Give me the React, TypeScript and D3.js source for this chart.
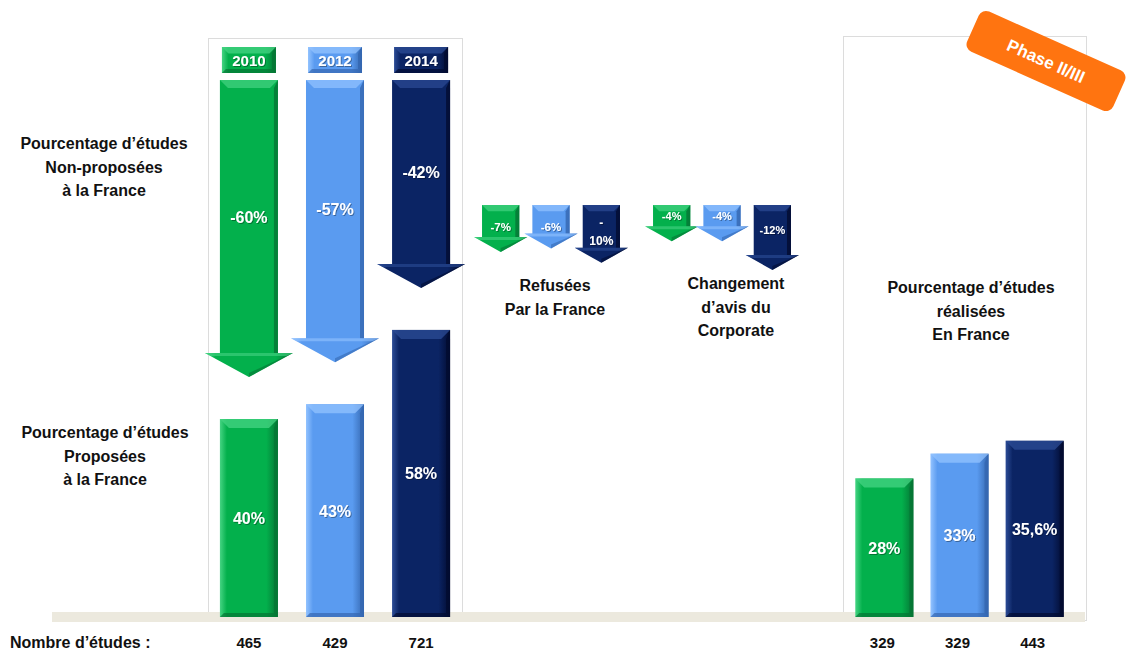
import * as d3 from "d3";
import React from "react";

const W = 1127;
const H = 655;

// data
const years = ["2010", "2012", "2014"];
const nonProposed = [60, 57, 42];
const proposed = [40, 43, 58];
const refused = [7, 6, 10];
const changed = [4, 4, 12];
const realised = [28, 33, 35.6];
const realisedLabels = ["28%", "33%", "35,6%"];
const countsLeft = [465, 429, 721];
const countsRight = [329, 329, 443];

const palette = [
    { base: "#03b04c", light: "#46d483", dark: "#057534" },
    { base: "#5a9bf0", light: "#93c3ff", dark: "#3467b0" },
    { base: "#0b2464", light: "#2c4c96", dark: "#020b30" },
];

const FONT = "'Liberation Sans', Arial, sans-serif";

const baseY = 617;
const arrowTop = 80;

const xLeft = d3.scaleBand<string>().domain(years).range([207, 463]).paddingInner(0.326).paddingOuter(0.15);
const xRight = d3.scaleBand<string>().domain(years).range([844, 1075]).paddingInner(0.227).paddingOuter(0.15);
const xRef = d3.scaleBand<string>().domain(years).range([477, 625]).paddingInner(0.26).paddingOuter(0.1);
const xChg = d3.scaleBand<string>().domain(years).range([648, 796]).paddingInner(0.26).paddingOuter(0.1);

const yPct = d3.scaleLinear().domain([0, 100]).range([0, 495]);
const ySmall = d3.scaleLinear().domain([0, 12]).range([22, 65]);

function Bevel({ x, y, w, h, i }: { x: number; y: number; w: number; h: number; i: number }) {
    const c = palette[i];
    const b = Math.min(9, h / 4);
    return (
        <g>
            <rect x={x} y={y} width={w} height={h} fill={`url(#grad${i})`} />
            <polygon points={`${x},${y} ${x + w},${y} ${x + w - b},${y + b} ${x + b},${y + b}`} fill={c.light} opacity={0.75} />
            <polygon points={`${x + w},${y} ${x + w},${y + h} ${x + w - 4},${y + h - 4} ${x + w - 4},${y + b}`} fill={c.dark} opacity={0.8} />
            <polygon points={`${x},${y + h} ${x + w},${y + h} ${x + w - 4},${y + h - 4} ${x + 4},${y + h - 4}`} fill={c.dark} opacity={0.7} />
        </g>
    );
}

function Arrow({ x, y, w, len, e, hh, i }: { x: number; y: number; w: number; len: number; e: number; hh: number; i: number }) {
    const c = palette[i];
    const tip = y + len;
    const hs = tip - hh;
    const b = Math.min(8, w / 6);
    const pts = [
        [x, y], [x + w, y], [x + w, hs], [x + w + e, hs], [x + w / 2, tip], [x - e, hs], [x, hs],
    ];
    return (
        <g>
            <polygon points={pts.map((p) => p.join(",")).join(" ")} fill={`url(#grad${i})`} />
            <polygon points={`${x},${y} ${x + w},${y} ${x + w - b},${y + b} ${x + b},${y + b}`} fill={c.light} opacity={0.7} />
            <polygon points={`${x + w},${y} ${x + w},${hs} ${x + w - 4},${hs} ${x + w - 4},${y + b}`} fill={c.dark} opacity={0.8} />
            <polygon points={`${x - e},${hs} ${x + w + e},${hs} ${x + w + e - 6},${hs + 3} ${x - e + 6},${hs + 3}`} fill={c.light} opacity={0.6} />
            <polygon points={`${x + w + e},${hs} ${x + w / 2},${tip} ${x + w / 2},${tip - 4} ${x + w + e - 7},${hs + 3}`} fill={c.dark} opacity={0.6} />
        </g>
    );
}

function Label({ x, y, lines, size = 16 }: { x: number; y: number; lines: string[]; size?: number }) {
    return (
        <text x={x} y={y} textAnchor="middle" fontFamily={FONT} fontWeight="bold" fontSize={size} fill="#111">
            {lines.map((l, k) => (
                <tspan key={k} x={x} dy={k === 0 ? 0 : 23.5}>{l}</tspan>
            ))}
        </text>
    );
}

export default function App() {
    const bwL = xLeft.bandwidth();
    const bwR = xRight.bandwidth();
    const bwS = xRef.bandwidth();
    return (
        <div style={{ position: "fixed", left: 0, top: 0 }}>
            <svg width={W} height={H} style={{ display: "block", background: "#fff" }}>
                <defs>
                    {palette.map((c, i) => (
                        <linearGradient key={i} id={`grad${i}`} x1="0" x2="1" y1="0" y2="0">
                            <stop offset="0" stopColor={c.light} />
                            <stop offset="0.12" stopColor={c.base} />
                            <stop offset="0.8" stopColor={c.base} />
                            <stop offset="1" stopColor={c.dark} />
                        </linearGradient>
                    ))}
                    <filter id="shadow" x="-10%" y="-10%" width="130%" height="130%">
                        <feDropShadow dx="1" dy="1" stdDeviation="0.6" floodColor="#000" floodOpacity="0.35" />
                    </filter>
                </defs>

                {/* panels */}
                <rect x={208.5} y={38.5} width={254} height={582} fill="none" stroke="#dcdcdc" />
                <rect x={843.5} y={36.5} width={243} height={584} fill="none" stroke="#dcdcdc" />

                {/* baseline */}
                <rect x={52} y={612} width={1033} height={10} fill="#ece9de" />

                {/* year tags */}
                {years.map((yr, i) => {
                    const x = xLeft(yr)! + 2;
                    return (
                        <g key={yr}>
                            <Bevel x={x} y={47} w={bwL - 4} h={26} i={i} />
                            <text x={x + (bwL - 4) / 2} y={65.5} textAnchor="middle" fontFamily={FONT} fontWeight="bold" fontSize={15} fill="#fff" filter="url(#shadow)">{yr}</text>
                        </g>
                    );
                })}

                {/* non-proposed arrows */}
                {years.map((yr, i) => {
                    const x = xLeft(yr)!;
                    const len = yPct(nonProposed[i]);
                    return (
                        <g key={yr}>
                            <Arrow x={x} y={arrowTop} w={bwL} len={len} e={15} hh={24} i={i} />
                            <text x={x + bwL / 2} y={arrowTop + (len - 24) / 2 + 6} textAnchor="middle" fontFamily={FONT} fontWeight="bold" fontSize={16} fill="#fff" filter="url(#shadow)">-{nonProposed[i]}%</text>
                        </g>
                    );
                })}

                {/* proposed bars */}
                {years.map((yr, i) => {
                    const x = xLeft(yr)!;
                    const h = yPct(proposed[i]);
                    return (
                        <g key={yr}>
                            <Bevel x={x} y={baseY - h} w={bwL} h={h} i={i} />
                            <text x={x + bwL / 2} y={baseY - h / 2 + 6} textAnchor="middle" fontFamily={FONT} fontWeight="bold" fontSize={16} fill="#fff" filter="url(#shadow)">{proposed[i]}%</text>
                        </g>
                    );
                })}

                {/* refused small arrows */}
                {years.map((yr, i) => {
                    const x = xRef(yr)!;
                    const len = ySmall(refused[i]);
                    const cx = x + bwS / 2;
                    return (
                        <g key={yr}>
                            <Arrow x={x} y={205} w={bwS} len={len} e={8} hh={15} i={i} />
                            {refused[i] >= 10 ? (
                                <text textAnchor="middle" fontFamily={FONT} fontWeight="bold" fontSize={12} fill="#fff" filter="url(#shadow)">
                                    <tspan x={cx} y={227}>-</tspan>
                                    <tspan x={cx} y={245}>{refused[i]}%</tspan>
                                </text>
                            ) : (
                                <text x={cx} y={231} textAnchor="middle" fontFamily={FONT} fontWeight="bold" fontSize={11.5} fill="#fff" filter="url(#shadow)">-{refused[i]}%</text>
                            )}
                        </g>
                    );
                })}

                {/* changed small arrows */}
                {years.map((yr, i) => {
                    const x = xChg(yr)!;
                    const len = ySmall(changed[i]);
                    const cx = x + bwS / 2;
                    return (
                        <g key={yr}>
                            <Arrow x={x} y={205} w={bwS} len={len} e={8} hh={15} i={i} />
                            <text x={cx} y={205 + (len - 15) / 2 + 4} textAnchor="middle" fontFamily={FONT} fontWeight="bold" fontSize={11} fill="#fff" filter="url(#shadow)">-{changed[i]}%</text>
                        </g>
                    );
                })}

                {/* realised bars */}
                {years.map((yr, i) => {
                    const x = xRight(yr)!;
                    const h = yPct(realised[i]);
                    return (
                        <g key={yr}>
                            <Bevel x={x} y={baseY - h} w={bwR} h={h} i={i} />
                            <text x={x + bwR / 2} y={baseY - h / 2 + 6} textAnchor="middle" fontFamily={FONT} fontWeight="bold" fontSize={16} fill="#fff" filter="url(#shadow)">{realisedLabels[i]}</text>
                        </g>
                    );
                })}

                {/* category labels */}
                <Label x={104} y={149} lines={["Pourcentage d\u2019études", "Non-proposées", "à la France"]} />
                <Label x={105} y={438} lines={["Pourcentage d\u2019études", "Proposées", "à la France"]} />
                <Label x={555} y={291} lines={["Refusées", "Par la France"]} />
                <Label x={736} y={289} lines={["Changement", "d\u2019avis du", "Corporate"]} />
                <Label x={971} y={293} lines={["Pourcentage d\u2019études", "réalisées", "En France"]} />

                {/* counts */}
                <text x={10} y={648} fontFamily={FONT} fontWeight="bold" fontSize={16} fill="#111">Nombre d’études :</text>
                {years.map((yr, i) => (
                    <text key={"l" + yr} x={xLeft(yr)! + bwL / 2} y={648} textAnchor="middle" fontFamily={FONT} fontWeight="bold" fontSize={15} fill="#111">{countsLeft[i]}</text>
                ))}
                {years.map((yr, i) => (
                    <text key={"r" + yr} x={xRight(yr)! + bwR / 2 - 2} y={648} textAnchor="middle" fontFamily={FONT} fontWeight="bold" fontSize={15} fill="#111">{countsRight[i]}</text>
                ))}

                {/* phase badge */}
                <g transform="translate(1046,61) rotate(24)">
                    <rect x={-80} y={-22} width={160} height={44} rx={8} fill="#ff7410" />
                    <text x={0} y={6} textAnchor="middle" fontFamily={FONT} fontWeight="bold" fontSize={17} fill="#fff">Phase II/III</text>
                </g>
            </svg>
        </div>
    );
}
